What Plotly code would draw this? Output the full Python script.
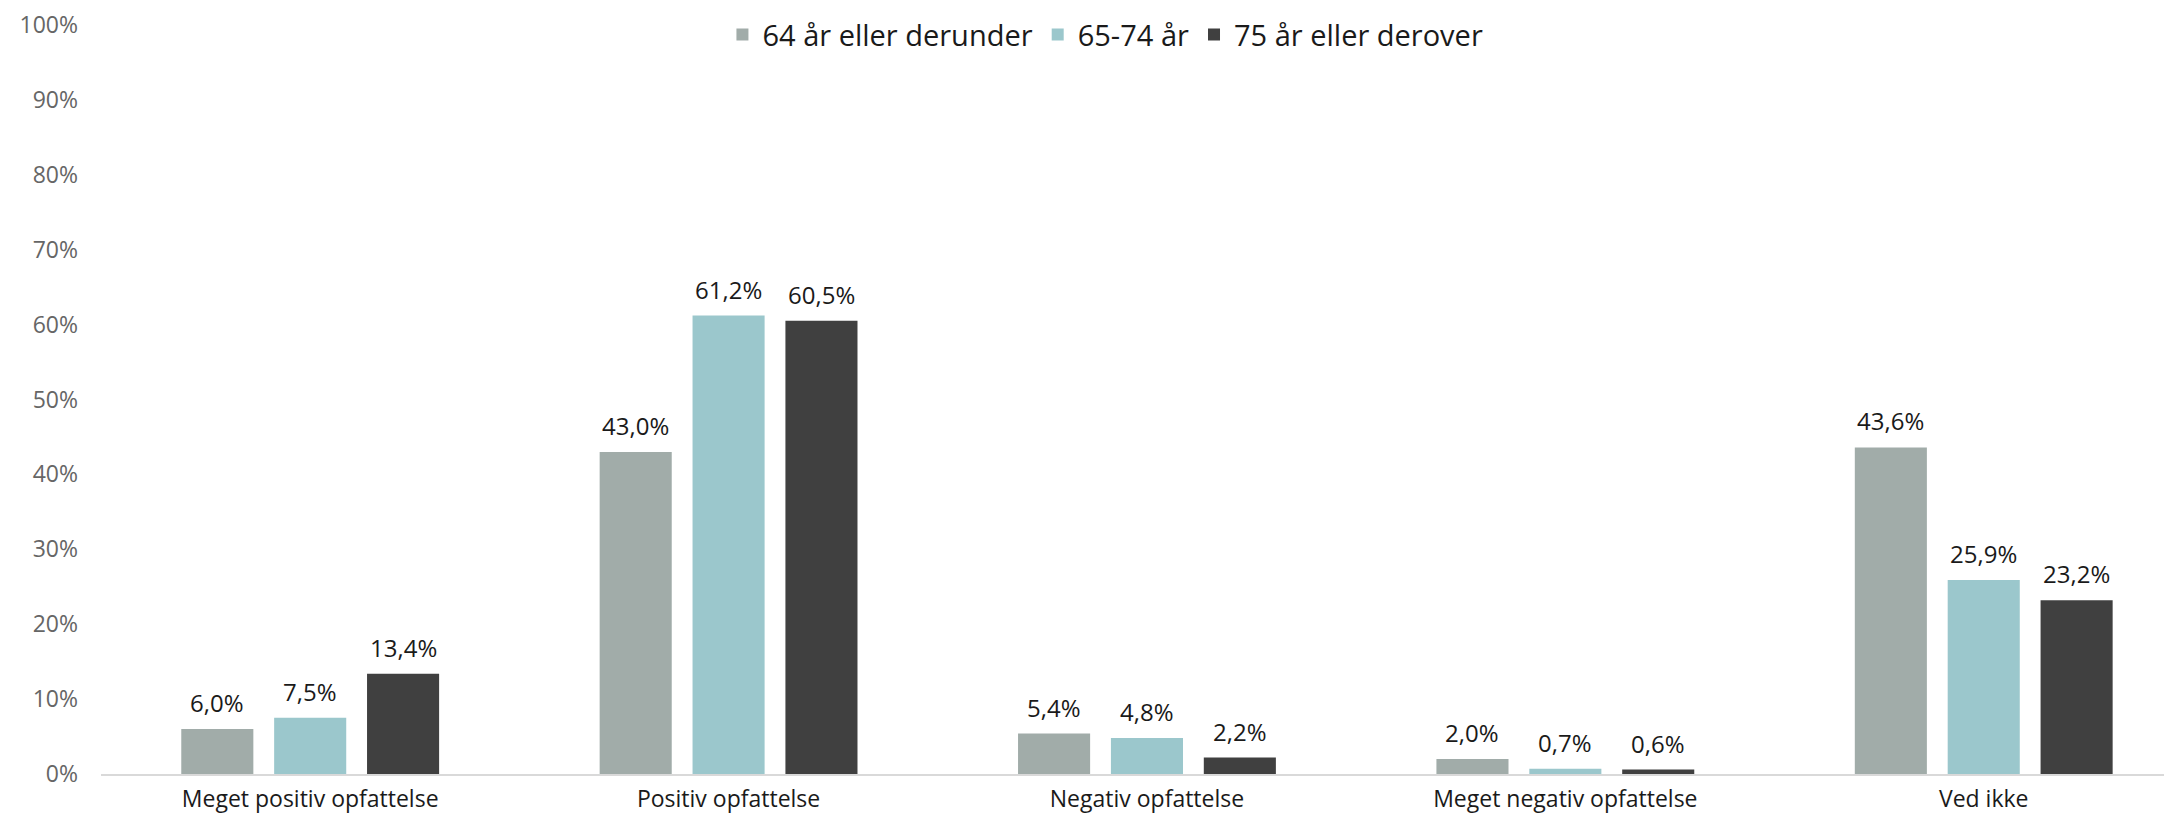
import plotly.graph_objects as go

categories = ["Meget positiv opfattelse", "Positiv opfattelse", "Negativ opfattelse",
              "Meget negativ opfattelse", "Ved ikke"]
series_names = ["64 år eller derunder", "65-74 år", "75 år eller derover"]
values_64 = [6.0, 43.0, 5.4, 2.0, 43.6]
values_65_74 = [7.5, 61.2, 4.8, 0.7, 25.9]
values_75 = [13.4, 60.5, 2.2, 0.6, 23.2]
colors = ["#A1ACA9", "#9BC7CC", "#404040"]
y_ticks = [0, 10, 20, 30, 40, 50, 60, 70, 80, 90, 100]

series = [values_64, values_65_74, values_75]

# page body has an 8px default margin, so the figure is a bit smaller
W, H = 2164, 806
ML, MR, MT, MB = 93, 0, 17, 40
x_range = [-0.5, 4.45]
bargap = 0.334
bargroupgap = 0.224

fig = go.Figure()
for name, vals, col in zip(series_names, series, colors):
    fig.add_trace(go.Bar(
        x=categories, y=[v / 100 for v in vals], name=name,
        marker=dict(color=col, line=dict(width=0)),
        hoverinfo="skip",
    ))

# data labels as annotations, shifted to each bar's slot
plot_w = W - ML - MR
cat_px = plot_w / (x_range[1] - x_range[0])
slot = cat_px * (1 - bargap) / len(series)
annotations = []
for i, vals in enumerate(series):
    for c, v in zip(categories, vals):
        annotations.append(dict(
            x=c, y=v / 100, xref="x", yref="y",
            text=f"{v:.1f}".replace(".", ",") + "%",
            showarrow=False, xanchor="center", yanchor="bottom",
            xshift=(i - 1) * slot, yshift=8,
            font=dict(family="Open Sans", size=24, color="#1a1a1a"),
        ))

fig.update_layout(
    width=W, height=H,
    margin=dict(l=ML, r=MR, t=MT, b=MB, pad=0, autoexpand=False),
    paper_bgcolor="white", plot_bgcolor="white",
    barmode="group", bargap=bargap, bargroupgap=bargroupgap,
    separators=",.",
    annotations=annotations,
    legend=dict(
        orientation="h", x=0.485, xanchor="center", y=0.987, yanchor="middle",
        font=dict(family="Open Sans", size=29, color="#1a1a1a"),
        itemwidth=30, tracegroupgap=0, bgcolor="rgba(0,0,0,0)",
    ),
    xaxis=dict(
        range=x_range, showgrid=False, showline=True, linecolor="#D9D9D9", linewidth=2,
        ticks="", tickfont=dict(family="Open Sans", size=23, color="#1a1a1a"),
        fixedrange=True, automargin=False, ticklabelstandoff=3,
    ),
    yaxis=dict(
        range=[0, 1], showgrid=False, zeroline=False, showline=False,
        tickvals=[t / 100 for t in y_ticks], ticktext=[f"{t}%" for t in y_ticks],
        tickfont=dict(family="Open Sans", size=23, color="#666666"),
        ticks="", ticklabelstandoff=22, automargin=False,
    ),
)
fig.write_html("out.html")
